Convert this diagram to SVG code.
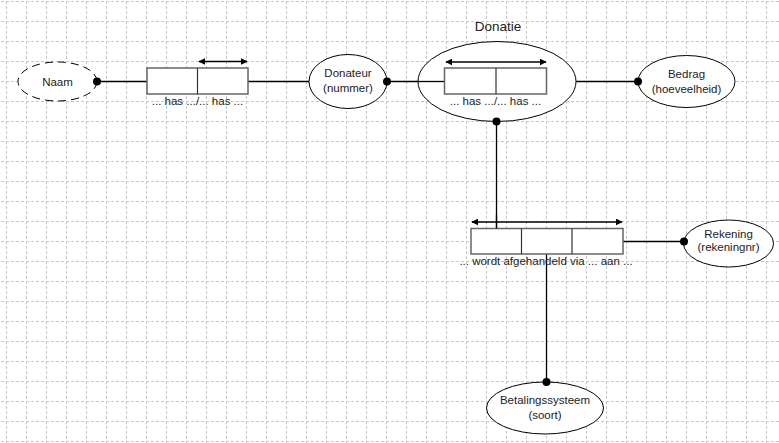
<svg xmlns="http://www.w3.org/2000/svg" width="779" height="443" viewBox="0 0 779 443">
<defs>
<pattern id="grid" x="6" y="1" width="20" height="20" patternUnits="userSpaceOnUse">
<line x1="0" y1="0.5" x2="20" y2="0.5" stroke="#c6c6c6" stroke-width="1" stroke-dasharray="3,2"/>
<line x1="0.5" y1="0" x2="0.5" y2="20" stroke="#c6c6c6" stroke-width="1" stroke-dasharray="3,2"/>
</pattern>
<marker id="ah" viewBox="0 0 10 10" refX="9" refY="5" markerWidth="7" markerHeight="7" markerUnits="userSpaceOnUse" orient="auto-start-reverse">
<path d="M0,0 L10,5 L0,10 z" fill="#000"/>
</marker>
<style>
.ent{fill:#fff;stroke:#000;stroke-width:1}
.val{fill:#fff;stroke:#000;stroke-width:1;stroke-dasharray:8,5}
.cell{fill:#fff;stroke:#666;stroke-width:1.5}
.div{stroke:#333;stroke-width:1.2}
.ln{stroke:#000;stroke-width:1.3;fill:none}
.arr{stroke:#000;stroke-width:1.3;fill:none;marker-start:url(#ah);marker-end:url(#ah)}
.dot{fill:#000}
text{font-family:"Liberation Sans",Arial,sans-serif;font-size:11.5px;fill:#222;text-anchor:middle}
.title{font-size:13.5px}
</style>
</defs>
<rect width="779" height="443" fill="#fff"/>
<rect width="779" height="443" fill="url(#grid)"/>

<g id="connectors">
<line class="ln" x1="97" y1="81.5" x2="147" y2="81.5"/>
<line class="ln" x1="248" y1="81.5" x2="310" y2="81.5"/>
<line class="ln" x1="387" y1="81.5" x2="445" y2="81.5"/>
<line class="ln" x1="547" y1="81.5" x2="638" y2="81.5"/>
<line class="ln" x1="496.5" y1="122" x2="496.5" y2="228.5"/>
<line class="ln" x1="623" y1="241.5" x2="684" y2="241.5"/>
<line class="ln" x1="546.5" y1="254" x2="546.5" y2="382"/>
</g>

<g id="naam">
<ellipse class="val" cx="57.5" cy="81.5" rx="39.5" ry="19.5"/>
<text x="57.5" y="85.5">Naam</text>
<circle class="dot" cx="97" cy="81.5" r="4"/>
</g>

<g id="fact-naam-donateur">
<rect class="cell" x="147" y="68" width="101" height="26"/>
<line class="div" x1="197.5" y1="68" x2="197.5" y2="94"/>
<line class="arr" x1="199" y1="61.5" x2="247" y2="61.5"/>
<text x="197.5" y="104.5">... has .../... has ...</text>
</g>

<g id="donateur">
<ellipse class="ent" cx="348" cy="81.5" rx="39" ry="27"/>
<text x="348" y="77">Donateur</text>
<text x="348" y="92">(nummer)</text>
<circle class="dot" cx="387" cy="81.5" r="4"/>
</g>

<g id="donatie">
<text class="title" x="498" y="31">Donatie</text>
<ellipse class="ent" cx="497" cy="81.5" rx="79" ry="40"/>
<line class="ln" x1="418" y1="81.5" x2="445" y2="81.5"/>
<rect class="cell" x="444.5" y="68" width="102" height="26"/>
<line class="div" x1="496" y1="68" x2="496" y2="94"/>
<line class="arr" x1="446" y1="62" x2="546" y2="62"/>
<text x="495.5" y="104.5">... has .../... has ...</text>
<circle class="dot" cx="496.5" cy="121.5" r="4"/>
</g>

<g id="bedrag">
<ellipse class="ent" cx="686.5" cy="81.5" rx="48.5" ry="26"/>
<text x="686.5" y="78">Bedrag</text>
<text x="686.5" y="93">(hoeveelheid)</text>
<circle class="dot" cx="638" cy="81.5" r="4"/>
</g>

<g id="fact-afgehandeld">
<rect class="cell" x="471" y="228.5" width="152" height="25.5"/>
<line class="div" x1="521.5" y1="228.5" x2="521.5" y2="254"/>
<line class="div" x1="572" y1="228.5" x2="572" y2="254"/>
<line class="ln" x1="496.5" y1="215" x2="496.5" y2="228.5"/>
<line class="arr" x1="472" y1="222" x2="622" y2="222"/>
<text x="546" y="264.5">... wordt afgehandeld via ... aan ...</text>
</g>

<g id="rekening">
<ellipse class="ent" cx="728.5" cy="243.5" rx="45" ry="23.5"/>
<text x="728.5" y="237.5">Rekening</text>
<text x="728.5" y="251">(rekeningnr)</text>
<circle class="dot" cx="684" cy="241.5" r="4"/>
</g>

<g id="betalingssysteem">
<ellipse class="ent" cx="545" cy="408" rx="58.5" ry="26"/>
<text x="545" y="404">Betalingssysteem</text>
<text x="545" y="419">(soort)</text>
<circle class="dot" cx="546.5" cy="382" r="4"/>
</g>
</svg>
